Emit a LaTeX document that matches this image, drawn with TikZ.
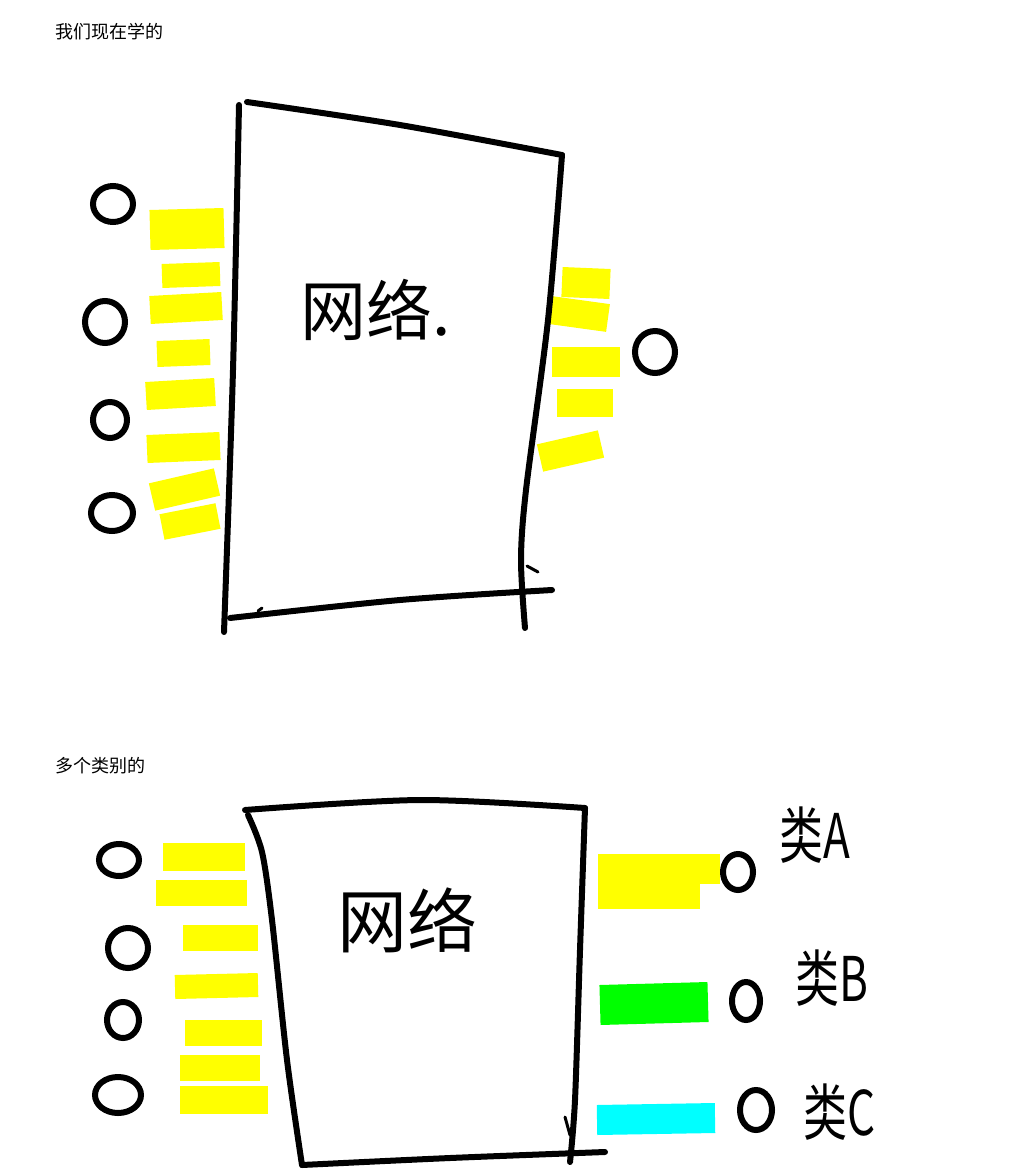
\documentclass[tikz,border=0pt]{standalone}
\usepackage{fontspec}
\usepackage{xcolor}
\usetikzlibrary{shapes.geometric}
\newfontfamily\cjk{Noto Sans CJK SC}
\definecolor{hlyellow}{RGB}{255,255,0}
\definecolor{hlgreen}{RGB}{0,255,0}
\definecolor{hlcyan}{RGB}{0,255,255}

\begin{document}
\begin{tikzpicture}[x=1pt,y=-1pt,
  pen/.style={line width=6pt,line cap=round,line join=round},
  hl/.style={line cap=butt,hlyellow},
  neuron/.style={ellipse,draw,line width=6pt,inner sep=0pt},
  title/.style={font=\cjk\fontsize{18}{21}\selectfont,anchor=west},
  hand/.style={font=\cjk\fontsize{#1}{#1}\selectfont}]
  \useasboundingbox (0,0) rectangle (1024,1169);

  % Titles
  \node[title] (t1) at (52,32)  {我们现在学的};
  \node[title] (t2) at (52,766) {多个类别的};

  % Top: input highlights
  \draw[hl,line width=40pt] (150,230) -- (224,228);
  \draw[hl,line width=24pt] (162,276) -- (220,274);
  \draw[hl,line width=28pt] (150,310) -- (222,306);
  \draw[hl,line width=26pt] (157,354) -- (210,352);
  \draw[hl,line width=28pt] (146,396) -- (215,392);
  \draw[hl,line width=28pt] (147,449) -- (220,446);
  \draw[hl,line width=28pt] (152,497) -- (217,482);
  \draw[hl,line width=26pt] (162,527) -- (218,516);

  % Top: output highlights
  \draw[hl,line width=30pt] (562,282) -- (610,284);
  \draw[hl,line width=28pt] (550,310) -- (608,318);
  \draw[hl,line width=30pt] (552,362) -- (620,362);
  \draw[hl,line width=28pt] (557,403) -- (613,403);
  \draw[hl,line width=28pt] (540,458) -- (601,444);

  % Top: network box
  \draw[pen] plot[smooth] coordinates {(247,102) (400,125) (562,155)};
  \draw[pen] plot[smooth] coordinates {(239,105) (233,370) (224,632)};
  \draw[pen] plot[smooth] coordinates {(562,155) (548,320) (526,490) (521,560) (525,628)};
  \draw[pen] plot[smooth] coordinates {(230,618) (400,600) (552,590)};
  \draw[line width=3pt,line cap=round] (527,566) -- (538,572);
  \draw[line width=3pt,line cap=round] (258,611) -- (262,608);
  \node[hand=66] (net1) at (376,310) {网络.};

  % Top: neurons
  \node[neuron,minimum width=40pt,minimum height=36pt] (n1) at (113,204) {};
  \node[neuron,minimum width=40pt,minimum height=42pt] (n2) at (105,322) {};
  \node[neuron,minimum width=34pt,minimum height=36pt] (n3) at (110,420) {};
  \node[neuron,minimum width=42pt,minimum height=36pt] (n4) at (112,513) {};
  \node[neuron,minimum width=40pt,minimum height=42pt] (o1) at (655,352) {};

  % Bottom: input highlights
  \draw[hl,line width=28pt] (163,857) -- (245,857);
  \draw[hl,line width=26pt] (156,893) -- (247,893);
  \draw[hl,line width=26pt] (183,938) -- (258,938);
  \draw[hl,line width=24pt] (175,987) -- (258,985);
  \draw[hl,line width=26pt] (185,1033) -- (262,1033);
  \draw[hl,line width=26pt] (180,1068) -- (260,1068);
  \draw[hl,line width=28pt] (180,1100) -- (268,1100);

  % Bottom: class highlights
  \draw[hl,line width=30pt] (598,869) -- (720,869);
  \draw[hl,line width=28pt] (598,895) -- (700,895);
  \draw[hl,hlgreen,line width=40pt] (600,1005) -- (708,1002);
  \draw[hl,hlcyan,line width=30pt] (597,1120) -- (715,1118);

  % Bottom: network box
  \draw[pen] plot[smooth] coordinates {(245,810) (420,800) (585,808)};
  \draw[pen] plot[smooth] coordinates {(248,815) (262,852) (272,920) (287,1060) (302,1165)};
  \draw[pen] plot[smooth] coordinates {(585,808) (580,950) (575,1100) (570,1162)};
  \draw[pen] plot[smooth] coordinates {(302,1165) (450,1158) (605,1152)};
  \draw[line width=3pt,line cap=round] (565,1117) -- (570,1135);
  \node[hand=70] (net2) at (407,920) {网络};

  % Bottom: neurons
  \node[neuron,minimum width=40pt,minimum height=32pt] (m1) at (119,860) {};
  \node[neuron,minimum width=40pt,minimum height=40pt] (m2) at (128,948) {};
  \node[neuron,minimum width=32pt,minimum height=36pt] (m3) at (123,1020) {};
  \node[neuron,minimum width=46pt,minimum height=36pt] (m4) at (118,1095) {};
  \node[neuron,minimum width=30pt,minimum height=36pt] (ca) at (738,872) {};
  \node[neuron,minimum width=28pt,minimum height=38pt] (cb) at (746,1001) {};
  \node[neuron,minimum width=32pt,minimum height=40pt] (cc) at (756,1110) {};

  % Class labels
  \node[hand=44,yscale=1.4] (la) at (815,835)  {类A};
  \node[hand=44,yscale=1.4] (lb) at (832,978)  {类B};
  \node[hand=44,yscale=1.4] (lc) at (840,1112) {类C};
\end{tikzpicture}
\end{document}
